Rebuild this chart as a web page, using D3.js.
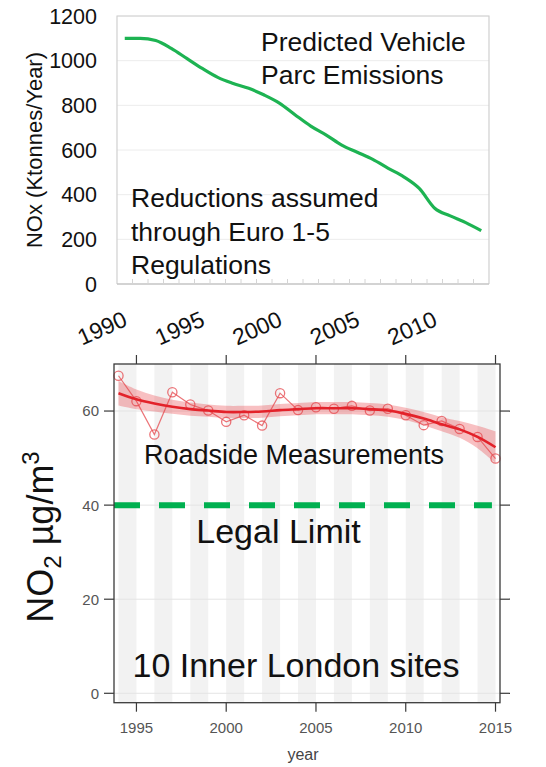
<!DOCTYPE html>
<meta charset="utf-8">
<style>
    body { margin: 0; background: #fff; }
    text { font-family: "Liberation Sans", Arial, sans-serif; }
</style>
<script src="https://d3js.org/d3.v7.min.js"></script>
<div id="svg-holder"></div>
<script>

    // ---- data: predicted vehicle parc NOx emissions (ktonnes/year)
    var emis_years = [1990, 1991, 1992, 1993, 1994, 1995, 1996, 1997, 1998, 1999, 2000, 2001,
                      2002, 2003, 2004, 2005, 2006, 2007, 2008, 2009, 2010, 2011, 2012, 2013];
    var emis_values = [1100, 1100, 1090, 1055, 1010, 965, 925, 898, 876, 846, 809, 757,
                       707, 667, 622, 590, 558, 518, 480, 428, 339, 305, 275, 239];
    var emis_ticks = [0, 200, 400, 600, 800, 1000, 1200];
    var emis_labels = [1990, 1995, 2000, 2005, 2010];

    // ---- data: roadside NO2 (10 inner London sites)
    var no2_years = [1994, 1995, 1996, 1997, 1998, 1999, 2000, 2001, 2002, 2003, 2004,
                     2005, 2006, 2007, 2008, 2009, 2010, 2011, 2012, 2013, 2014, 2015];
    var no2_values = [67.5, 62.1, 55.0, 64.0, 61.4, 60.1, 57.7, 59.1, 56.9, 63.8, 60.2,
                      60.8, 60.5, 61.1, 60.1, 60.5, 59.1, 57.0, 57.9, 56.2, 54.5, 49.9];
    var no2_smooth = [63.8, 62.5, 61.6, 60.9, 60.4, 60.1, 59.8, 59.8, 59.9, 60.2, 60.4,
                      60.6, 60.6, 60.6, 60.4, 60.1, 59.4, 58.4, 57.2, 56.1, 54.5, 52.3];
    var no2_lower = [61.2, 60.4, 59.9, 59.4, 59.0, 58.8, 58.5, 58.5, 58.6, 58.9, 59.1,
                     59.3, 59.3, 59.3, 59.1, 58.8, 58.1, 57.0, 55.7, 54.3, 52.1, 48.9];
    var no2_upper = [66.4, 64.6, 63.3, 62.4, 61.8, 61.4, 61.1, 61.1, 61.2, 61.5, 61.7,
                     61.9, 61.9, 61.9, 61.7, 61.4, 60.7, 59.8, 58.7, 57.9, 56.9, 55.7];
    var no2_ticks = [0, 20, 40, 60];
    var no2_xticks = [1995, 2000, 2005, 2010, 2015];
    var legal_limit = 40;

    var width = 546, height = 767;
    var svg = d3.select("#svg-holder").append("svg").attr("width", width).attr("height", height);
    svg.append("rect").attr("width", width).attr("height", height).attr("fill", "#fff");

    /* ---------------- Top chart ---------------- */
    var top_box = {left: 117, right: 489, top: 16, bottom: 284};
    var x_top = d3.scaleBand().domain(emis_years).range([top_box.left, top_box.right]);
    var y_top = d3.scaleLinear().domain([0, 1200]).range([top_box.bottom, top_box.top]);
    var g_top = svg.append("g");

    // gridlines
    g_top.selectAll(".grid").data(emis_ticks.slice(1)).enter().append("line")
        .attr("x1", top_box.left).attr("x2", top_box.right)
        .attr("y1", function(d) { return y_top(d); }).attr("y2", function(d) { return y_top(d); })
        .attr("stroke", "#ececec").attr("stroke-width", 1);

    // frame: left, top, right in light grey, axis line a bit darker
    g_top.append("path")
        .attr("d", "M" + top_box.left + "," + top_box.bottom + "V" + top_box.top + "H" + top_box.right + "V" + top_box.bottom)
        .attr("fill", "none").attr("stroke", "#d0d0d0").attr("stroke-width", 1.2);
    g_top.append("line")
        .attr("x1", top_box.left).attr("x2", top_box.right)
        .attr("y1", top_box.bottom).attr("y2", top_box.bottom)
        .attr("stroke", "#c4c4c4").attr("stroke-width", 1.5);

    // minor ticks at band boundaries (inside)
    g_top.selectAll(".mtick").data(emis_years.slice(1)).enter().append("line")
        .attr("x1", function(d) { return x_top(d); }).attr("x2", function(d) { return x_top(d); })
        .attr("y1", top_box.bottom - 5).attr("y2", top_box.bottom)
        .attr("stroke", "#d4d4d4").attr("stroke-width", 1);

    // y tick labels
    g_top.selectAll(".ylab").data(emis_ticks).enter().append("text")
        .attr("x", top_box.left - 20).attr("y", function(d) { return y_top(d); })
        .attr("dy", "0.36em").attr("text-anchor", "end")
        .attr("font-size", "21.5px").attr("fill", "#111")
        .text(function(d) { return d; });

    // x tick labels, rotated
    g_top.selectAll(".xlab").data(emis_labels).enter().append("text")
        .attr("transform", function(d) {
            return "translate(" + (x_top(d) + x_top.bandwidth() / 2 + 4) + ",325) rotate(-24)";
        })
        .attr("text-anchor", "end").attr("font-size", "23px").attr("fill", "#111")
        .text(function(d) { return d; });

    // y axis title
    g_top.append("text")
        .attr("transform", "translate(42,150) rotate(-90)")
        .attr("text-anchor", "middle").attr("font-size", "22px").attr("fill", "#111")
        .text("NOx (Ktonnes/Year)");

    // emissions line
    var emis_line = d3.line()
        .x(function(d, i) { return x_top(emis_years[i]) + x_top.bandwidth() / 2; })
        .y(function(d) { return y_top(d); })
        .curve(d3.curveMonotoneX);
    g_top.append("path").datum(emis_values)
        .attr("d", emis_line).attr("fill", "none")
        .attr("stroke", "#1db352").attr("stroke-width", 3.2);

    // annotations
    var ann_top = g_top.append("text").attr("font-size", "26.5px").attr("fill", "#111");
    ann_top.append("tspan").attr("x", 261).attr("y", 51).text("Predicted Vehicle");
    ann_top.append("tspan").attr("x", 261).attr("y", 84).text("Parc Emissions");
    var ann_bot = g_top.append("text").attr("font-size", "26.5px").attr("fill", "#111");
    ann_bot.append("tspan").attr("x", 131).attr("y", 207).text("Reductions assumed");
    ann_bot.append("tspan").attr("x", 131).attr("y", 241).text("through Euro 1-5");
    ann_bot.append("tspan").attr("x", 131).attr("y", 274).text("Regulations");

    /* ---------------- Bottom chart ---------------- */
    var bot_box = {left: 114, right: 500, top: 364, bottom: 702.7};
    var x_bot = d3.scaleLinear().domain([1993.75, 2015.25]).range([bot_box.left, bot_box.right]);
    var y_bot = d3.scaleLinear().domain([-2, 70]).range([bot_box.bottom, bot_box.top]);
    var g_bot = svg.append("g");

    // alternating year shading
    var shade_years = no2_years.filter(function(d) { return d % 2 === 0; });
    g_bot.selectAll(".shade").data(shade_years).enter().append("rect")
        .attr("x", function(d) { return Math.max(x_bot(d), bot_box.left); })
        .attr("width", function(d) { return x_bot(d + 1) - Math.max(x_bot(d), bot_box.left); })
        .attr("y", bot_box.top).attr("height", bot_box.bottom - bot_box.top)
        .attr("fill", "#f2f2f2");

    // gridlines
    g_bot.selectAll(".grid").data(no2_ticks).enter().append("line")
        .attr("x1", bot_box.left).attr("x2", bot_box.right)
        .attr("y1", function(d) { return y_bot(d); }).attr("y2", function(d) { return y_bot(d); })
        .attr("stroke", "#e4e4e4").attr("stroke-width", 1);

    // confidence band
    var band = d3.area()
        .x(function(d, i) { return x_bot(no2_years[i]); })
        .y0(function(d, i) { return y_bot(no2_lower[i]); })
        .y1(function(d, i) { return y_bot(no2_upper[i]); })
        .curve(d3.curveCatmullRom);
    g_bot.append("path").datum(no2_years)
        .attr("d", band).attr("fill", "#ea3a42").attr("fill-opacity", 0.32);

    // measured values: thin line and open circles
    var obs_line = d3.line()
        .x(function(d, i) { return x_bot(no2_years[i]); })
        .y(function(d) { return y_bot(d); });
    g_bot.append("path").datum(no2_values)
        .attr("d", obs_line).attr("fill", "none")
        .attr("stroke", "#e5474c").attr("stroke-opacity", 0.75).attr("stroke-width", 1.2);
    g_bot.selectAll(".pt").data(no2_values).enter().append("circle")
        .attr("cx", function(d, i) { return x_bot(no2_years[i]); })
        .attr("cy", function(d) { return y_bot(d); })
        .attr("r", 4.6).attr("fill", "none")
        .attr("stroke", "#e5474c").attr("stroke-opacity", 0.75).attr("stroke-width", 1.3);

    // smooth trend
    var smooth_line = d3.line()
        .x(function(d, i) { return x_bot(no2_years[i]); })
        .y(function(d) { return y_bot(d); })
        .curve(d3.curveCatmullRom);
    g_bot.append("path").datum(no2_smooth)
        .attr("d", smooth_line).attr("fill", "none")
        .attr("stroke", "#e3222a").attr("stroke-width", 2.6);

    // legal limit
    g_bot.append("line")
        .attr("x1", x_bot(1993.75)).attr("x2", x_bot(2014.8))
        .attr("y1", y_bot(legal_limit)).attr("y2", y_bot(legal_limit))
        .attr("stroke", "#00b050").attr("stroke-width", 6).attr("stroke-dasharray", "26,19");

    // frame
    g_bot.append("rect")
        .attr("x", bot_box.left).attr("y", bot_box.top)
        .attr("width", bot_box.right - bot_box.left).attr("height", bot_box.bottom - bot_box.top)
        .attr("fill", "none").attr("stroke", "#3a3a3a").attr("stroke-width", 1.3);

    // ticks on all four sides (outside)
    no2_ticks.forEach(function(t) {
        g_bot.append("line").attr("x1", bot_box.left - 10).attr("x2", bot_box.left)
            .attr("y1", y_bot(t)).attr("y2", y_bot(t)).attr("stroke", "#3a3a3a").attr("stroke-width", 1.2);
        g_bot.append("line").attr("x1", bot_box.right).attr("x2", bot_box.right + 10)
            .attr("y1", y_bot(t)).attr("y2", y_bot(t)).attr("stroke", "#3a3a3a").attr("stroke-width", 1.2);
        g_bot.append("text").attr("x", bot_box.left - 15).attr("y", y_bot(t))
            .attr("dy", "0.36em").attr("text-anchor", "end")
            .attr("font-size", "15px").attr("fill", "#555").text(t);
    });
    no2_xticks.forEach(function(t) {
        g_bot.append("line").attr("x1", x_bot(t)).attr("x2", x_bot(t))
            .attr("y1", bot_box.top - 9).attr("y2", bot_box.top).attr("stroke", "#3a3a3a").attr("stroke-width", 1.2);
        g_bot.append("line").attr("x1", x_bot(t)).attr("x2", x_bot(t))
            .attr("y1", bot_box.bottom).attr("y2", bot_box.bottom + 9).attr("stroke", "#3a3a3a").attr("stroke-width", 1.2);
        g_bot.append("text").attr("x", x_bot(t)).attr("y", 733)
            .attr("text-anchor", "middle").attr("font-size", "15px").attr("fill", "#555").text(t);
    });

    // axis titles
    g_bot.append("text").attr("x", 303).attr("y", 760)
        .attr("text-anchor", "middle").attr("font-size", "16px").attr("fill", "#444").text("year");
    var ylab = g_bot.append("text")
        .attr("transform", "translate(53,537) rotate(-90)")
        .attr("text-anchor", "middle").attr("font-size", "36px").attr("fill", "#111");
    ylab.append("tspan").text("NO");
    ylab.append("tspan").attr("font-size", "24px").attr("dy", 8).text("2");
    ylab.append("tspan").attr("dy", -8).text(" µg/m");
    ylab.append("tspan").attr("font-size", "24px").attr("dy", -14).text("3");

    // annotations
    g_bot.append("text").attr("x", 294).attr("y", 464)
        .attr("text-anchor", "middle").attr("font-size", "27px").attr("fill", "#111")
        .text("Roadside Measurements");
    g_bot.append("text").attr("x", 278.5).attr("y", 543)
        .attr("text-anchor", "middle").attr("font-size", "34px").attr("fill", "#111")
        .text("Legal Limit");
    g_bot.append("text").attr("x", 296).attr("y", 677)
        .attr("text-anchor", "middle").attr("font-size", "34px").attr("fill", "#111")
        .text("10 Inner London sites");

</script>
